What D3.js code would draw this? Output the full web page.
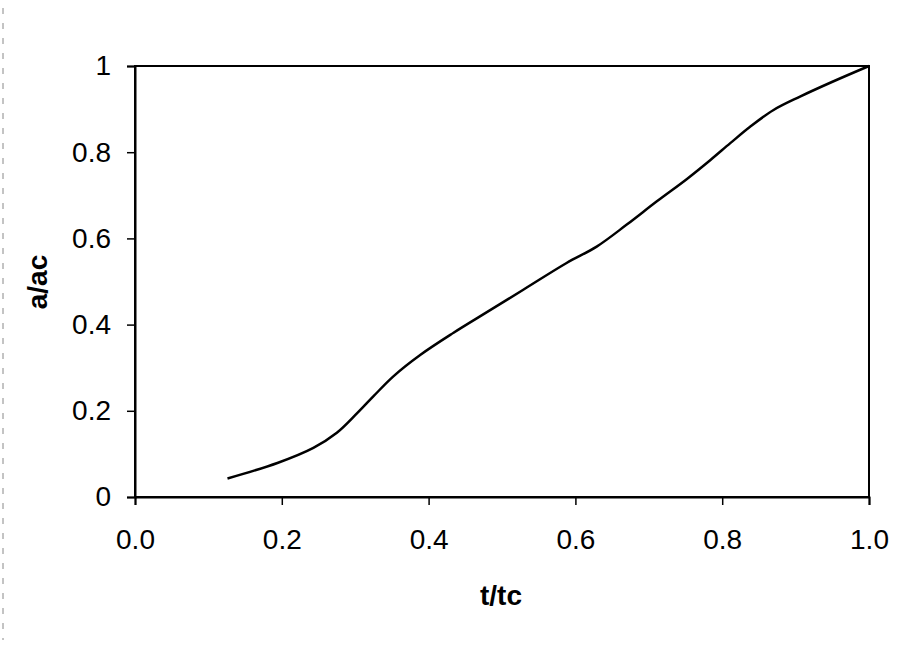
<!DOCTYPE html>
<html>
<head>
<meta charset="utf-8">
<script src="https://cdn.jsdelivr.net/npm/d3@7"></script>
<style>
  body { margin: 0; background: #fff; }
  text { font-family: Arial, "Liberation Sans", sans-serif; fill: #000; }
</style>
</head>
<body>
<div id="chart"></div>
<script>
// curve
const tValues = [0.126, 0.194, 0.243, 0.275, 0.303, 0.325, 0.352, 0.389, 0.434, 0.470,
  0.529, 0.588, 0.629, 0.670, 0.711, 0.752, 0.784, 0.811, 0.838, 0.870, 0.906, 0.951, 1.0];
const aValues = [0.043, 0.079, 0.114, 0.149, 0.195, 0.234, 0.280, 0.330, 0.381, 0.419,
  0.481, 0.543, 0.581, 0.632, 0.686, 0.738, 0.782, 0.821, 0.859, 0.898, 0.929, 0.964, 1.0];
const xTicks = [0, 0.2, 0.4, 0.6, 0.8, 1.0];
const yTicks = [0, 0.2, 0.4, 0.6, 0.8, 1];

const width = 922, height = 656;
const margin = {top: 66, right: 53, bottom: 159, left: 135};
const innerW = width - margin.left - margin.right;
const innerH = height - margin.top - margin.bottom;

const svg = d3.select('#chart').append('svg')
  .attr('width', width)
  .attr('height', height);

// faint scan marks along the edges
svg.append('line')
  .attr('x1', 3).attr('x2', 3).attr('y1', 8).attr('y2', 640)
  .attr('stroke', '#888').attr('stroke-width', 1).attr('stroke-dasharray', '6,9');

const chart = svg.append('g')
  .attr('transform', `translate(${margin.left},${margin.top})`);

const x = d3.scaleLinear().domain([0, 1]).range([0, innerW]);
const y = d3.scaleLinear().domain([0, 1]).range([innerH, 0]);

// frame
chart.append('rect')
  .attr('width', innerW)
  .attr('height', innerH)
  .attr('fill', 'none')
  .attr('stroke', '#000')
  .attr('stroke-width', 2);

const xAxis = chart.append('g')
  .attr('transform', `translate(0,${innerH})`)
  .call(d3.axisBottom(x).tickValues(xTicks).tickFormat(d3.format('.1f')).tickSize(8).tickPadding(24));

const yAxis = chart.append('g')
  .call(d3.axisLeft(y).tickValues(yTicks).tickFormat(d => d3.format('~g')(d)).tickSize(8).tickPadding(16));

[xAxis, yAxis].forEach(ax => {
  ax.select('.domain').attr('stroke', '#000').attr('stroke-width', 2);
  ax.selectAll('.tick line').attr('stroke', '#000').attr('stroke-width', 1.5);
  ax.selectAll('.tick text')
    .attr('font-size', 28)
    .attr('font-family', 'Arial, "Liberation Sans", sans-serif');
});

const line = d3.line()
  .x(d => x(d[0]))
  .y(d => y(d[1]))
  .curve(d3.curveCatmullRom.alpha(0.5));

chart.append('path')
  .datum(tValues.map((t, i) => [t, aValues[i]]))
  .attr('fill', 'none')
  .attr('stroke', '#000')
  .attr('stroke-width', 2.5)
  .attr('d', line);

// axis titles
svg.append('text')
  .attr('x', 501)
  .attr('y', 605)
  .attr('text-anchor', 'middle')
  .attr('font-size', 28)
  .attr('font-weight', 'bold')
  .text('t/tc');

svg.append('text')
  .attr('transform', 'translate(47,282) rotate(-90)')
  .attr('text-anchor', 'middle')
  .attr('font-size', 28)
  .attr('font-weight', 'bold')
  .text('a/ac');
</script>
</body>
</html>
